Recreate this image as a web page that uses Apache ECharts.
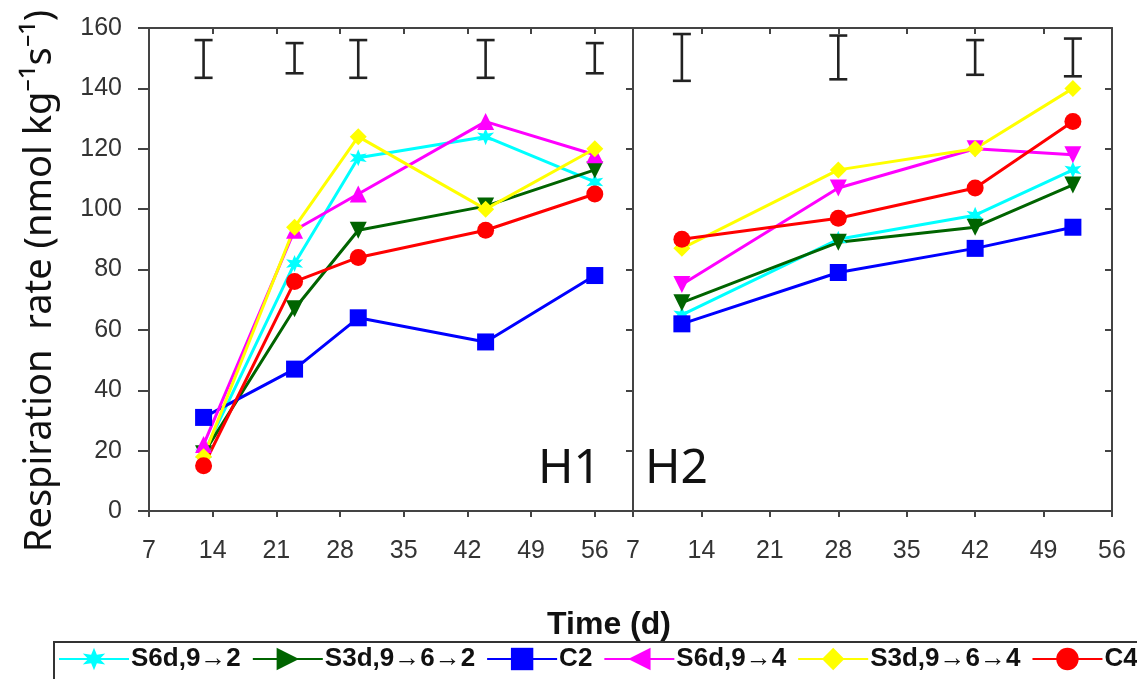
<!DOCTYPE html>
<html lang="en">
  <head>
    <meta charset="UTF-8" />
    <title>Respiration rate H1 / H2</title>
    <script src="https://cdn.jsdelivr.net/npm/echarts@6/dist/echarts.min.js"></script>
    <style>
      html, body { margin: 0; padding: 0; background: #fff; }
      #box { width: 1137px; height: 679px; }
    </style>
  </head>
  <body>
    <div id="box"></div>
    <script>
      // treatments (legend order)
      var names = ["S6d,9\u21922", "S3d,9\u21926\u21922", "C2", "S6d,9\u21924", "S3d,9\u21926\u21924", "C4"];
      var colors = ["#00ffff", "#006400", "#0000ff", "#ff00ff", "#ffff00", "#ff0000"];

      // H1 sampling days and values
      var daysH1 = [13, 23, 30, 44, 56];
      var s6d2H1 = [19, 82, 117, 124, 109];
      var s3d2H1 = [19, 67, 93, 101, 113];
      var c2H1 = [31, 47, 64, 56, 78];
      var s6d4H1 = [22, 93, 105, 129, 118];
      var s3d4H1 = [18, 94, 124, 100, 120];
      var c4H1 = [15, 76, 84, 93, 105];

      // H2 sampling days and values
      var daysH2 = [12, 28, 42, 52];
      var s6d2H2 = [65, 90, 98, 113];
      var s3d2H2 = [69, 89, 94, 108];
      var c2H2 = [62, 79, 87, 94];
      var s6d4H2 = [75, 107, 120, 118];
      var s3d4H2 = [87, 113, 120, 140];
      var c4H2 = [90, 97, 107, 129];

      // LSD bars drawn at the top of each panel
      var errLowH1 = [143.5, 145, 143.5, 143.5, 145];
      var errHighH1 = [156, 155, 156, 156, 155];
      var errLowH2 = [142.5, 143, 144.5, 144];
      var errHighH2 = [158, 157.5, 156, 156.5];

      var valsH1 = [s6d2H1, s3d2H1, c2H1, s6d4H1, s3d4H1, c4H1];
      var valsH2 = [s6d2H2, s3d2H2, c2H2, s6d4H2, s3d4H2, c4H2];

      // marker shapes
      var STAR = "path://M50,0 L61,31 L93,25 L72,50 L93,75 L61,69 L50,100 L39,69 L7,75 L28,50 L7,25 L39,31 Z";
      var TRI_DOWN = "path://M0,0 L100,0 L50,100 Z";
      var TRI_UP = "path://M50,0 L100,100 L0,100 Z";
      var TRI_RIGHT = "path://M0,0 L100,50 L0,100 Z";
      var TRI_LEFT = "path://M100,0 L0,50 L100,100 Z";
      var symH1 = [STAR, TRI_DOWN, "rect", TRI_UP, "diamond", "circle"];
      var symH2 = [STAR, TRI_DOWN, "rect", TRI_DOWN, "diamond", "circle"];
      var symLegend = [STAR, TRI_RIGHT, "rect", TRI_LEFT, "diamond", "circle"];

      function pairs(xs, ys) {
        var out = [];
        for (var i = 0; i < xs.length; i++) out.push([xs[i], ys[i]]);
        return out;
      }

      var axisColor = "#444";
      var labelFont = { fontFamily: "Liberation Sans Narrow, Liberation Sans, sans-serif", fontSize: 25, color: "#333" };

      function xAxes(gi, max, labels) {
        return [
          {
            gridIndex: gi, type: "value", min: 7, max: max, interval: 7, position: "bottom",
            axisLine: { show: true, onZero: false, lineStyle: { color: axisColor, width: 2 } },
            axisTick: { show: true, inside: false, length: 6, lineStyle: { color: axisColor, width: 2 } },
            axisLabel: Object.assign({ show: labels, margin: 28, showMaxLabel: max === 56 }, labelFont),
            splitLine: { show: false }
          },
          {
            gridIndex: gi, type: "value", min: 7, max: max, interval: 7, position: "top",
            axisLine: { show: true, onZero: false, lineStyle: { color: axisColor, width: 2 } },
            axisTick: { show: true, inside: true, length: 6, lineStyle: { color: axisColor, width: 2 } },
            axisLabel: { show: false },
            splitLine: { show: false }
          }
        ];
      }

      function yAxes(gi, labels) {
        return [
          {
            gridIndex: gi, type: "value", min: 0, max: 160, interval: 20, position: "left",
            axisLine: { show: true, onZero: false, lineStyle: { color: axisColor, width: 2 } },
            axisTick: { show: labels, inside: false, length: 11, lineStyle: { color: axisColor, width: 2 } },
            axisLabel: Object.assign({ show: labels, margin: 27 }, labelFont),
            splitLine: { show: false }
          },
          {
            gridIndex: gi, type: "value", min: 0, max: 160, interval: 20, position: "right",
            axisLine: { show: true, onZero: false, lineStyle: { color: axisColor, width: 2 } },
            axisTick: { show: true, inside: true, length: 7, lineStyle: { color: axisColor, width: 2 } },
            axisLabel: { show: false },
            splitLine: { show: false }
          }
        ];
      }

      var series = [];

      // legend-only series (carry the legend marker shapes)
      for (var k = 0; k < names.length; k++) {
        series.push({
          name: names[k], type: "line", xAxisIndex: 0, yAxisIndex: 0, data: [],
          symbol: symLegend[k], symbolSize: 22,
          itemStyle: { color: colors[k] },
          lineStyle: { color: colors[k], width: 3 }
        });
      }

      // data series
      for (var k = 0; k < names.length; k++) {
        series.push({
          name: names[k], type: "line", xAxisIndex: 0, yAxisIndex: 0,
          data: pairs(daysH1, valsH1[k]),
          symbol: symH1[k], symbolSize: 17, showAllSymbol: true,
          itemStyle: { color: colors[k] },
          lineStyle: { color: colors[k], width: 3 },
          animation: false
        });
        series.push({
          name: names[k], type: "line", xAxisIndex: 2, yAxisIndex: 2,
          data: pairs(daysH2, valsH2[k]),
          symbol: symH2[k], symbolSize: 17, showAllSymbol: true,
          itemStyle: { color: colors[k] },
          lineStyle: { color: colors[k], width: 3 },
          animation: false
        });
      }

      function errRender(params, api) {
        var top = api.coord([api.value(0), api.value(2)]);
        var bot = api.coord([api.value(0), api.value(1)]);
        var w = 9;
        var st = { stroke: "#222", lineWidth: 2.6 };
        return {
          type: "group",
          children: [
            { type: "line", shape: { x1: top[0], y1: top[1], x2: bot[0], y2: bot[1] }, style: st },
            { type: "line", shape: { x1: top[0] - w, y1: top[1], x2: top[0] + w, y2: top[1] }, style: st },
            { type: "line", shape: { x1: bot[0] - w, y1: bot[1], x2: bot[0] + w, y2: bot[1] }, style: st }
          ]
        };
      }

      function errData(xs, lo, hi) {
        var out = [];
        for (var i = 0; i < xs.length; i++) out.push([xs[i], lo[i], hi[i]]);
        return out;
      }

      series.push({
        type: "custom", xAxisIndex: 0, yAxisIndex: 0, renderItem: errRender,
        data: errData(daysH1, errLowH1, errHighH1), encode: { x: 0, y: [1, 2] }, silent: true, z: 5
      });
      series.push({
        type: "custom", xAxisIndex: 2, yAxisIndex: 2, renderItem: errRender,
        data: errData(daysH2, errLowH2, errHighH2), encode: { x: 0, y: [1, 2] }, silent: true, z: 5
      });

      var chart = echarts.init(document.getElementById("box"), null, { renderer: "canvas" });
      chart.setOption({
        backgroundColor: "#fff",
        animation: false,
        grid: [
          { left: 149, top: 28, width: 484, height: 483 },
          { left: 633, top: 28, width: 479, height: 483 }
        ],
        xAxis: xAxes(0, 60.2, true).concat(xAxes(1, 56, true)),
        yAxis: yAxes(0, true).concat(yAxes(1, false)),
        legend: {
          data: names,
          left: 54, top: 642, width: 1300,
          orient: "horizontal",
          itemWidth: 70, itemHeight: 28, itemGap: 11,
          padding: [4, 6, 20, 4],
          borderColor: "#333", borderWidth: 2,
          textStyle: { fontFamily: "Liberation Sans, Arial, sans-serif", fontWeight: "bold", fontSize: 26, color: "#111", padding: [0, 0, 0, -3] }
        },
        graphic: [
          {
            type: "text", x: 609, y: 625,
            style: { text: "Time (d)", font: "bold 32px 'Liberation Sans', Arial, sans-serif", fill: "#111", align: "center", verticalAlign: "middle" }
          },
          {
            type: "text", x: 40, y: 281, rotation: Math.PI / 2,
            style: { text: "Respiration  rate (nmol kg\u207B\u00B9s\u207B\u00B9)", font: "38px 'Noto Sans', sans-serif", fill: "#111", align: "center", verticalAlign: "middle" }
          },
          {
            type: "text", x: 601, y: 469,
            style: { text: "H1", font: "48px 'Noto Sans', sans-serif", fill: "#111", align: "right", verticalAlign: "middle" }
          },
          {
            type: "text", x: 645, y: 469,
            style: { text: "H2", font: "48px 'Noto Sans', sans-serif", fill: "#111", align: "left", verticalAlign: "middle" }
          }
        ],
        series: series
      });
    </script>
  </body>
</html>
